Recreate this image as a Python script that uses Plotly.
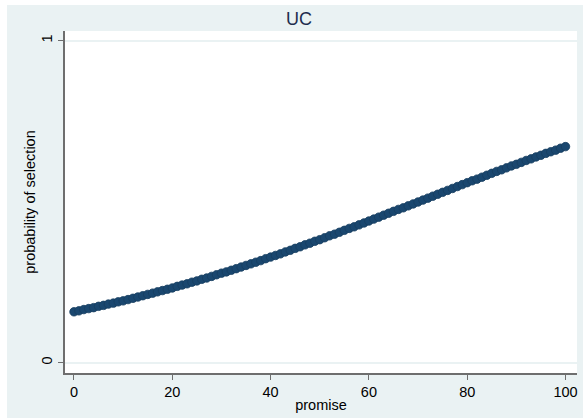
import plotly.graph_objects as go

promise = list(range(0, 101))
prob_selection = [
    0.158, 0.161, 0.165, 0.168, 0.171, 0.175, 0.178, 0.182, 0.185, 0.189,
    0.192, 0.196, 0.200, 0.204, 0.208, 0.212, 0.216, 0.220, 0.224, 0.228,
    0.232, 0.237, 0.241, 0.245, 0.250, 0.254, 0.259, 0.263, 0.268, 0.273,
    0.278, 0.282, 0.287, 0.292, 0.297, 0.302, 0.307, 0.312, 0.317, 0.323,
    0.328, 0.333, 0.338, 0.344, 0.349, 0.355, 0.360, 0.366, 0.371, 0.377,
    0.382, 0.388, 0.394, 0.399, 0.405, 0.411, 0.417, 0.422, 0.428, 0.434,
    0.440, 0.446, 0.452, 0.458, 0.464, 0.470, 0.476, 0.481, 0.487, 0.493,
    0.499, 0.505, 0.511, 0.517, 0.523, 0.529, 0.535, 0.541, 0.547, 0.553,
    0.559, 0.565, 0.570, 0.576, 0.582, 0.588, 0.594, 0.599, 0.605, 0.611,
    0.616, 0.622, 0.628, 0.633, 0.639, 0.644, 0.650, 0.655, 0.660, 0.666,
    0.671,
]
x_ticks = [0, 20, 40, 60, 80, 100]
y_ticks = [0, 1]

FONT = "Liberation Sans, Arial, sans-serif"
BG = "#eaf2f3"

fig = go.Figure()
fig.add_trace(go.Scatter(
    x=promise, y=prob_selection, mode="markers",
    marker=dict(size=8.5, color="#1a476f", line=dict(width=0.8, color="#163d5f")),
    showlegend=False, cliponaxis=False,
))

W, H = 583, 418
L, R, T, B = 65, 6, 31, 45
PW, PH = W - L - R, H - T - B

fig.update_layout(
    width=W, height=H,
    paper_bgcolor=BG, plot_bgcolor="white",
    margin=dict(l=L, r=R, t=T, b=B),
    font=dict(family=FONT, color="#000000", size=14.5),
    title=dict(text="UC", x=299 / W, xanchor="center", y=1 - 19 / H, yanchor="middle",
               font=dict(family=FONT, size=18, color="#1e2d4e")),
    shapes=[
        dict(type="rect", xref="paper", yref="paper", layer="above",
             x0=-L / PW, x1=(-L + 7) / PW, y0=-B / PH, y1=(PH + T) / PH,
             fillcolor="white", line=dict(width=0)),
        dict(type="rect", xref="paper", yref="paper", layer="above",
             x0=-L / PW, x1=(PW + R) / PW, y0=(PH + T - 5) / PH, y1=(PH + T) / PH,
             fillcolor="white", line=dict(width=0)),
    ],
)
fig.update_xaxes(
    range=[-1.83, 102.34], tickvals=x_ticks, ticktext=[str(v) for v in x_ticks],
    showgrid=False, zeroline=False, showline=True, linecolor="#6e6e6e", linewidth=1.5,
    ticks="outside", ticklen=5, tickcolor="#6e6e6e", tickwidth=1,
    tickfont=dict(size=14.5), title=dict(text="promise", font=dict(size=14.5), standoff=1),
)
fig.update_yaxes(
    range=[-0.032, 1.030], tickvals=y_ticks, ticktext=[str(v) for v in y_ticks],
    tickangle=-90, showgrid=True, gridcolor=BG, gridwidth=1.5, zeroline=False,
    showline=True, linecolor="#6e6e6e", linewidth=1.5,
    ticks="outside", ticklen=5, tickcolor="#6e6e6e", tickwidth=1,
    tickfont=dict(size=14.5), title=dict(text="probability of selection", font=dict(size=14.5), standoff=0),
)

fig.write_html("out.html", config={"displayModeBar": False},
               post_script="document.body.style.margin='0';document.body.style.padding='0';")
